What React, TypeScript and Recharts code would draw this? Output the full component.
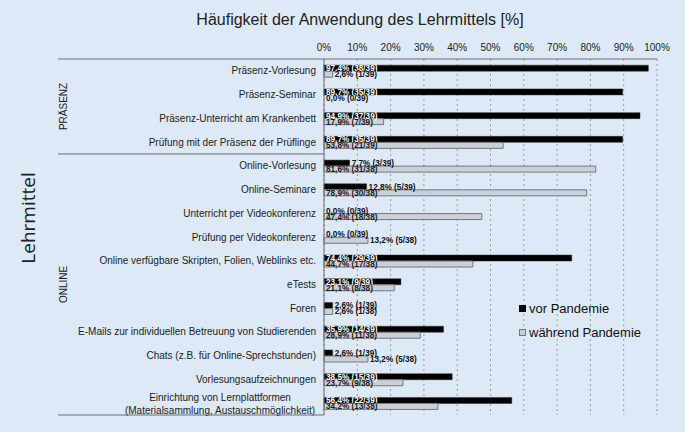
import React from "react";
import { BarChart, Bar, XAxis, YAxis, CartesianGrid, LabelList, Cell } from "recharts";

// Lehrmittel (categories), top to bottom
const categories = [
  "Präsenz-Vorlesung",
  "Präsenz-Seminar",
  "Präsenz-Unterricht am Krankenbett",
  "Prüfung mit der Präsenz der Prüflinge",
  "Online-Vorlesung",
  "Online-Seminare",
  "Unterricht per Videokonferenz",
  "Prüfung per Videokonferenz",
  "Online verfügbare Skripten, Folien, Weblinks etc.",
  "eTests",
  "Foren",
  "E-Mails zur individuellen Betreuung von Studierenden",
  "Chats (z.B. für Online-Sprechstunden)",
  "Vorlesungsaufzeichnungen",
  "Einrichtung von Lernplattformen\n(Materialsammlung, Austauschmöglichkeit)",
];

const groupNames = ["PRÄSENZ", "ONLINE"];
const groupSizes = [4, 11];

const seriesNames = ["vor Pandemie", "während Pandemie"];

const vorPct = [97.4, 89.7, 94.9, 89.7, 7.7, 12.8, 0.0, 0.0, 74.4, 23.1, 2.6, 35.9, 2.6, 38.5, 56.4];
const vorCount = [38, 35, 37, 35, 3, 5, 0, 0, 29, 9, 1, 14, 1, 15, 22];
const vorTotal = [39, 39, 39, 39, 39, 39, 39, 39, 39, 39, 39, 39, 39, 39, 39];

const waehrendPct = [2.6, 0.0, 17.9, 53.8, 81.6, 78.9, 47.4, 13.2, 44.7, 21.1, 2.6, 28.9, 13.2, 23.7, 34.2];
const waehrendCount = [1, 0, 7, 21, 31, 30, 18, 5, 17, 8, 1, 11, 5, 9, 13];
const waehrendTotal = [39, 39, 39, 39, 38, 38, 38, 38, 38, 38, 38, 38, 38, 38, 38];

const xTicks = [0, 10, 20, 30, 40, 50, 60, 70, 80, 90, 100];

const data = categories.map((name, i) => ({
  name,
  vor: vorPct[i],
  waehrend: waehrendPct[i],
  vorLabel: `${vorPct[i].toFixed(1).replace(".", ",")}% (${vorCount[i]}/${vorTotal[i]})`,
  waehrendLabel: `${waehrendPct[i].toFixed(1).replace(".", ",")}% (${waehrendCount[i]}/${waehrendTotal[i]})`,
}));

const W = 685;
const H = 432;
const X_AXIS_H = 30;
const MARGIN = { top: 59 - X_AXIS_H, right: 28, bottom: 17, left: 0 };
const Y_AXIS_W = 324;
const BAND = (H - 59 - MARGIN.bottom) / categories.length;
const BG = "#dde9f7";
const AXIS = "#6e6e6e";
const GRAY = "#c9d0d9";
const FONT = "'Liberation Sans', Arial, sans-serif";

// rough width of bold label text
const charW: Record<string, number> = { ",": 0.278, "%": 0.889, " ": 0.278, "(": 0.333, ")": 0.333, "/": 0.278 };
const textWidth = (s: string, size: number) =>
  s.split("").reduce((w, c) => w + (charW[c] ?? 0.556), 0) * size;

const LABEL_SIZE = 8.2;

const makeLabel = (insideColor: string) => (props: any) => {
  const { x, y, width, height, value } = props;
  const w = Math.max(0, width);
  const tw = textWidth(String(value), LABEL_SIZE);
  const inside = w >= tw + 3;
  return (
    <text
      x={inside ? x + 2 : x + w + 2}
      y={y + height / 2}
      dy="0.36em"
      fontSize={LABEL_SIZE}
      fontWeight="bold"
      fontFamily={FONT}
      fill={inside ? insideColor : "#111"}
    >
      {value}
    </text>
  );
};

const groupStarts = groupSizes.map((_, g) => groupSizes.slice(0, g).reduce((a, b) => a + b, 0));

const CategoryTick = (props: any) => {
  const { x, y, payload, index } = props;
  const lines = String(payload.value).split("\n");
  const axisX = x + 8;
  const g = groupStarts.indexOf(index);
  const last = index === categories.length - 1;
  return (
    <g>
      {lines.length === 1 ? (
        <text x={x} y={y} dy="0.35em" textAnchor="end" fontSize={10} fontFamily={FONT} fill="#222">
          {lines[0]}
        </text>
      ) : (
        <text x={x - 96} y={y} textAnchor="middle" fontSize={10} fontFamily={FONT} fill="#222">
          <tspan x={x - 96} dy="-0.25em">{lines[0]}</tspan>
          <tspan x={x - 96} dy="1.35em">{lines[1]}</tspan>
        </text>
      )}
      {g >= 0 && (
        <>
          <line x1={58} x2={axisX} y1={y - BAND / 2} y2={y - BAND / 2} stroke={AXIS} strokeWidth={1} />
          <text
            transform={`translate(67, ${y - BAND / 2 + (groupSizes[g] * BAND) / 2}) rotate(-90)`}
            textAnchor="middle"
            fontSize={10}
            fontFamily={FONT}
            fill="#222"
          >
            {groupNames[g]}
          </text>
        </>
      )}
      {last && <line x1={58} x2={axisX} y1={y + BAND / 2} y2={y + BAND / 2} stroke={AXIS} strokeWidth={1} />}
    </g>
  );
};

export default function App() {
  return (
    <div style={{ position: "relative", width: W, height: H, background: BG, fontFamily: FONT }}>
      <style>{`body{margin:0}`}</style>
      <div
        style={{
          position: "absolute",
          left: 0,
          width: 720,
          top: 11,
          textAlign: "center",
          fontSize: 16,
          color: "#222",
        }}
      >
        Häufigkeit der Anwendung des Lehrmittels [%]
      </div>
      <div
        style={{
          position: "absolute",
          left: 28,
          top: 218,
          transform: "translate(-50%, -50%) rotate(-90deg)",
          fontSize: 19,
          fontFamily: "'Open Sans', sans-serif",
          color: "#222",
          whiteSpace: "nowrap",
        }}
      >
        Lehrmittel
      </div>
      <BarChart
        width={W}
        height={H}
        data={data}
        layout="vertical"
        margin={MARGIN}
        barCategoryGap="26%"
        barGap={0}
      >
        <CartesianGrid horizontal={false} stroke="#9a9a9a" strokeDasharray="2 3" />
        <XAxis
          type="number"
          orientation="top"
          height={X_AXIS_H}
          domain={[0, 100]}
          ticks={xTicks}
          tickFormatter={(v) => `${v}%`}
          axisLine={{ stroke: AXIS }}
          tickLine={false}
          tick={{ fontSize: 10, fill: "#222", fontFamily: FONT }}
          interval={0}
        />
        <YAxis
          type="category"
          dataKey="name"
          width={Y_AXIS_W}
          axisLine={{ stroke: AXIS }}
          tickLine={false}
          tick={<CategoryTick />}
          interval={0}
        />
        <Bar dataKey="vor" name={seriesNames[0]} fill="#000" minPointSize={0.01} isAnimationActive={false}>
          {vorPct.map((v, i) => (
            <Cell key={i} fill="#000" stroke={v > 0 ? "#333" : "none"} strokeWidth={0.5} />
          ))}
          <LabelList dataKey="vorLabel" content={makeLabel("#fff")} />
        </Bar>
        <Bar dataKey="waehrend" name={seriesNames[1]} fill={GRAY} minPointSize={0.01} isAnimationActive={false}>
          {waehrendPct.map((v, i) => (
            <Cell key={i} fill={GRAY} stroke={v > 0 ? "#777" : "none"} strokeWidth={1} />
          ))}
          <LabelList dataKey="waehrendLabel" content={makeLabel("#1a1a1a")} />
        </Bar>
      </BarChart>
      <div style={{ position: "absolute", left: 519, top: 296, fontSize: 13, color: "#111" }}>
        {seriesNames.map((n, i) => (
          <div key={n} style={{ display: "flex", alignItems: "center", height: 24 }}>
            <span
              style={{
                display: "inline-block",
                width: 7,
                height: 7,
                marginRight: 3,
                background: i === 0 ? "#000" : GRAY,
                border: i === 0 ? "none" : "1px solid #777",
                boxSizing: "border-box",
              }}
            />
            {n}
          </div>
        ))}
      </div>
    </div>
  );
}
